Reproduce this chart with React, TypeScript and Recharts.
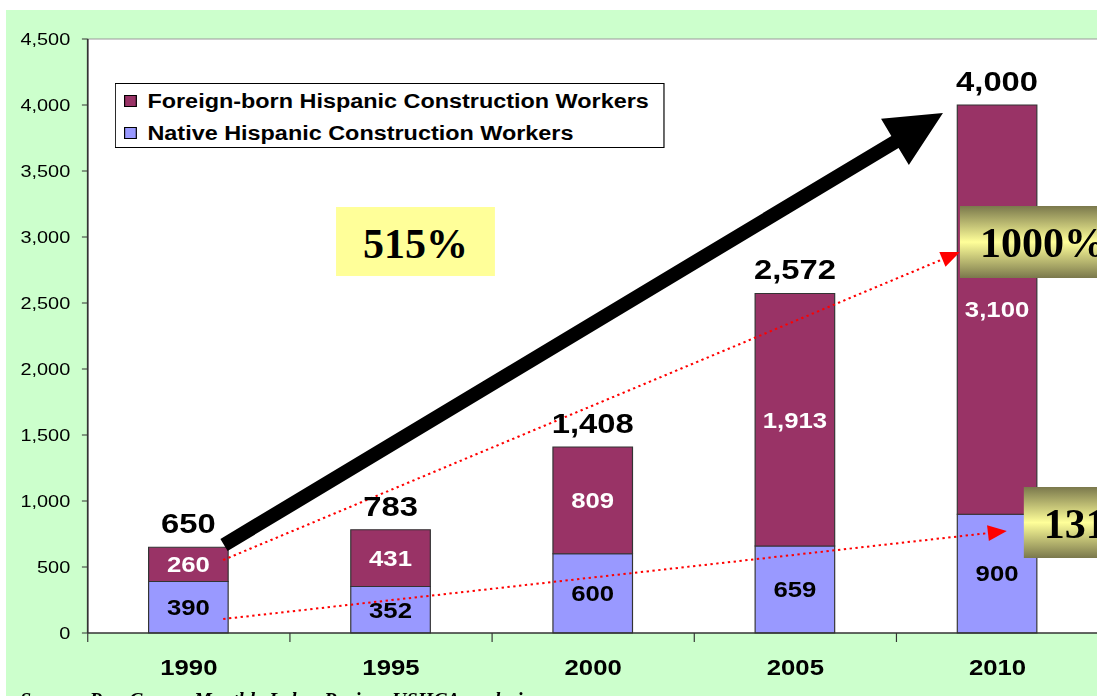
import React from 'react'
import {
	BarChart,
	Bar,
	XAxis,
	YAxis,
	CartesianGrid,
	Legend,
	LabelList,
	ReferenceLine,
	ReferenceArea,
} from 'recharts'

// the source picture is a slide where the chart image was stretched sideways
const STRETCH = 1.17
const SANS = "'Liberation Sans', Arial, sans-serif"
const SERIF = "'Liberation Serif', 'Times New Roman', serif"
const FOREIGN = '#993366'
const NATIVE = '#9999ff'

const years = ['1990', '1995', '2000', '2005', '2010']
const nativeWorkers = [390, 352, 600, 659, 900]
const foreignWorkers = [260, 431, 809, 1913, 3100]
const totals = [650, 783, 1408, 2572, 4000]
const yTicks = [0, 500, 1000, 1500, 2000, 2500, 3000, 3500, 4000, 4500]

// annotations: x in category index units (0 = 1990 ... 4 = 2010), y in thousands of workers
const bigArrow = [{ x: 0.174, y: 667 }, { x: 3.73, y: 3939 }]
const foreignArrow = [{ x: 0.17, y: 553 }, { x: 3.814, y: 2886 }]
const nativeArrow = [{ x: 0.17, y: 106 }, { x: 4.046, y: 773 }]
const totalBox = { x1: 0.728, x2: 1.514, y1: 2705, y2: 3227, text: '515%' }
const foreignBox = { x1: 3.814, x2: 4.7, y1: 2689, y2: 3235, text: '1000%' }
const nativeBox = { x1: 4.13, x2: 4.7, y1: 568, y2: 1106, text: '131%' }

const data = years.map((year, i) => ({
	year,
	slot: i,
	native: nativeWorkers[i],
	foreign: foreignWorkers[i],
	total: totals[i],
}))

const fmt = (v: any) => Number(v).toLocaleString('en-US')

// builds arrow geometry in screen pixels, then undoes the stretch on x
const arrowGeom = (x1: number, y1: number, x2: number, y2: number, head: number) => {
	const ax = x1 * STRETCH
	const bx = x2 * STRETCH
	const dx = bx - ax
	const dy = y2 - y1
	const len = Math.hypot(dx, dy)
	const ux = dx / len
	const uy = dy / len
	const px = -uy
	const py = ux
	const hx = bx - ux * head
	const hy = y2 - uy * head
	return { ax, bx, hx, hy, px, py }
}

const toPts = (pts: number[][]) => pts.map(([x, y]) => `${x / STRETCH},${y}`).join(' ')

const BigArrow = (props: any) => {
	const { x1, y1, x2, y2 } = props
	const { ax, bx, hx, hy, px, py } = arrowGeom(x1, y1, x2, y2, 56)
	const s = 7
	const h = 27
	return (
		<polygon
			points={toPts([
				[ax + px * s, y1 + py * s],
				[hx + px * s, hy + py * s],
				[hx + px * h, hy + py * h],
				[bx, y2],
				[hx - px * h, hy - py * h],
				[hx - px * s, hy - py * s],
				[ax - px * s, y1 - py * s],
			])}
			fill='#000'
		/>
	)
}

const DottedArrow = (props: any) => {
	const { x1, y1, x2, y2 } = props
	const { ax, bx, hx, hy, px, py } = arrowGeom(x1, y1, x2, y2, 19)
	return (
		<g>
			<line
				x1={ax / STRETCH}
				y1={y1}
				x2={hx / STRETCH}
				y2={hy}
				stroke='#ff0000'
				strokeWidth={2}
				strokeDasharray='2 3'
			/>
			<polygon
				points={toPts([
					[hx + px * 8, hy + py * 8],
					[bx, y2],
					[hx - px * 8, hy - py * 8],
				])}
				fill='#ff0000'
			/>
		</g>
	)
}

const boxText = (text: string, centered: boolean) => (props: any) => {
	const { x, y, width } = props.viewBox
	const tx = centered ? x + width / 2 : x + 20 / STRETCH
	return (
		<text
			transform={`translate(${tx} ${y + 51}) scale(${1 / STRETCH} 1)`}
			textAnchor={centered ? 'middle' : 'start'}
			fontFamily={SERIF}
			fontWeight='bold'
			fontSize={42}
			fill='#000'
		>
			{text}
		</text>
	)
}

const YearTick = (props: any) => {
	const { x, y, payload } = props
	const half = payload.offset ?? 0
	return (
		<g>
			<line x1={x - half} y1={y} x2={x - half} y2={y + 9} stroke='#333' />
			<text
				x={x}
				y={y + 42}
				textAnchor='middle'
				fontFamily={SANS}
				fontWeight='bold'
				fontSize={22}
				fill='#000'
			>
				{payload.value}
			</text>
		</g>
	)
}

const LegendBox = (props: any) => {
	const items = props.payload || []
	return (
		<div
			style={{
				border: '1px solid #000',
				background: '#fff',
				height: 65,
				boxSizing: 'border-box',
				paddingTop: 1,
				fontFamily: SANS,
			}}
		>
			{items.map((item: any) => (
				<div
					key={item.value}
					style={{ display: 'flex', alignItems: 'center', height: 32, paddingLeft: 7 }}
				>
					<span
						style={{
							width: 9,
							height: 10,
							background: item.color,
							border: '1px solid #000',
							marginRight: 9,
						}}
					/>
					<span style={{ fontSize: 20, fontWeight: 'bold', color: '#000' }}>{item.value}</span>
				</div>
			))}
		</div>
	)
}

const App = () => {
	return (
		<div
			style={{
				position: 'absolute',
				left: 0,
				top: 0,
				width: 1097,
				height: 696,
				overflow: 'hidden',
				background: '#fff',
			}}
		>
			<div
				style={{ position: 'absolute', left: 6, top: 10, right: 0, bottom: 0, background: '#ccffcc' }}
			/>
			<div
				style={{
					position: 'absolute',
					left: 0,
					top: 0,
					width: 950,
					height: 696,
					transform: `scaleX(${STRETCH})`,
					transformOrigin: '0 0',
				}}
			>
				<BarChart
					width={950}
					height={696}
					data={data}
					margin={{ top: 39, right: 11, left: 0, bottom: 13 }}
				>
					<defs>
						<linearGradient id='olive' x1='0' y1='0' x2='0' y2='1'>
							<stop offset='0%' stopColor='#7a784c' />
							<stop offset='50%' stopColor='#ffff99' />
							<stop offset='100%' stopColor='#7a784c' />
						</linearGradient>
					</defs>
					<CartesianGrid horizontal={false} vertical={false} fill='#fff' />
					<ReferenceArea
						xAxisId='slot'
						x1={-0.5}
						x2={5}
						y1={0}
						y2={4500}
						fill='#fff'
						fillOpacity={1}
						stroke='none'
						ifOverflow='visible'
					/>
					<ReferenceLine
						xAxisId='slot'
						segment={[{ x: -0.5, y: 4500 }, { x: 5, y: 4500 }]}
						stroke='#999'
						ifOverflow='visible'
					/>
					<XAxis
						dataKey='year'
						height={50}
						tickLine={false}
						tickSize={0}
						tickMargin={0}
						axisLine={{ stroke: '#333', strokeWidth: 1.5 }}
						tick={<YearTick />}
						interval={0}
					/>
					<XAxis
						xAxisId='slot'
						dataKey='slot'
						type='number'
						domain={[-0.5, 4.5]}
						allowDataOverflow
						hide
					/>
					<YAxis
						width={75}
						domain={[0, 4500]}
						ticks={yTicks}
						interval={0}
						tickFormatter={fmt}
						tickSize={5}
						tickMargin={10}
						axisLine={{ stroke: '#333', strokeWidth: 1.5 }}
						tickLine={{ stroke: '#333' }}
						tick={{ fill: '#000', fontSize: 17, fontFamily: SANS }}
					/>
					<Legend
						layout='vertical'
						align='center'
						verticalAlign='middle'
						wrapperStyle={{ left: 98, top: 83, width: 470, height: 65 }}
						content={<LegendBox />}
					/>
					<Bar
						dataKey='native'
						name='Native Hispanic Construction Workers'
						stackId='a'
						fill={NATIVE}
						stroke='#333'
						barSize={68}
						isAnimationActive={false}
					>
						<LabelList
							dataKey='native'
							position='center'
							fill='#000'
							fontSize={22}
							fontWeight='bold'
							fontFamily={SANS}
							formatter={fmt}
						/>
					</Bar>
					<Bar
						dataKey='foreign'
						name='Foreign-born Hispanic Construction Workers'
						stackId='a'
						fill={FOREIGN}
						stroke='#333'
						barSize={68}
						isAnimationActive={false}
					>
						<LabelList
							dataKey='foreign'
							position='center'
							fill='#fff'
							fontSize={22}
							fontWeight='bold'
							fontFamily={SANS}
							formatter={fmt}
						/>
						<LabelList
							dataKey='total'
							position='top'
							offset={14}
							fill='#000'
							fontSize={28}
							fontWeight='bold'
							fontFamily={SANS}
							formatter={fmt}
						/>
					</Bar>
					<ReferenceArea
						xAxisId='slot'
						x1={totalBox.x1}
						x2={totalBox.x2}
						y1={totalBox.y1}
						y2={totalBox.y2}
						fill='#ffff99'
						fillOpacity={1}
						stroke='none'
						ifOverflow='visible'
						zIndex={600}
						label={boxText(totalBox.text, true)}
					/>
					<ReferenceLine
						xAxisId='slot'
						segment={foreignArrow}
						ifOverflow='visible'
						zIndex={600}
						shape={DottedArrow}
					/>
					<ReferenceLine
						xAxisId='slot'
						segment={nativeArrow}
						ifOverflow='visible'
						zIndex={600}
						shape={DottedArrow}
					/>
					<ReferenceLine
						xAxisId='slot'
						segment={bigArrow}
						ifOverflow='visible'
						zIndex={600}
						shape={BigArrow}
					/>
					<ReferenceArea
						xAxisId='slot'
						x1={foreignBox.x1}
						x2={foreignBox.x2}
						y1={foreignBox.y1}
						y2={foreignBox.y2}
						fill='url(#olive)'
						fillOpacity={1}
						stroke='none'
						ifOverflow='visible'
						zIndex={600}
						label={boxText(foreignBox.text, false)}
					/>
					<ReferenceArea
						xAxisId='slot'
						x1={nativeBox.x1}
						x2={nativeBox.x2}
						y1={nativeBox.y1}
						y2={nativeBox.y2}
						fill='url(#olive)'
						fillOpacity={1}
						stroke='none'
						ifOverflow='visible'
						zIndex={600}
						label={boxText(nativeBox.text, false)}
					/>
				</BarChart>
			</div>
			<div
				style={{
					position: 'absolute',
					left: 20,
					top: 689,
					fontFamily: SERIF,
					fontStyle: 'italic',
					fontWeight: 'bold',
					fontSize: 20,
					whiteSpace: 'nowrap',
					color: '#000',
				}}
			>
				Source: Pew Census Monthly Labor Review, USHCA analysis
			</div>
		</div>
	)
}

export default App
